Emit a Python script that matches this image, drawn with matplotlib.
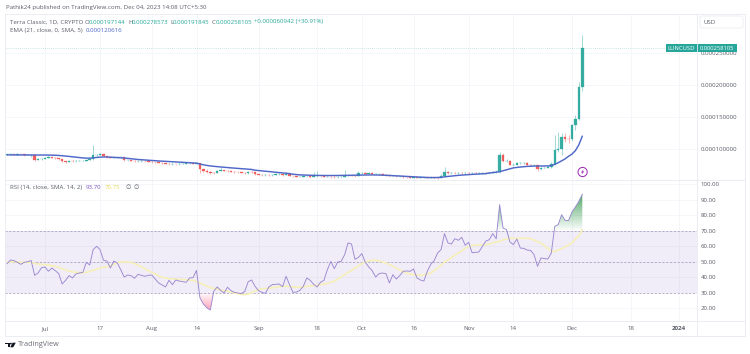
import numpy as np
import pandas as pd
import matplotlib
matplotlib.use("Agg")
import matplotlib.pyplot as plt
import matplotlib.dates as mdates
from matplotlib.patches import Rectangle, Polygon, Circle, FancyBboxPatch
from matplotlib.path import Path

# daily bars, 2023-06-20 .. 2023-12-04, prices in 1e-6 USD
first_open = 91.5
close = [
    92, 92.5, 91.5, 92.5, 92, 91, 91.5, 91.5, 83.5, 85, 85,
    87, 88, 87, 86.5, 85, 81, 80, 81.5, 81, 81.5, 82,
    82, 83, 84.5, 91, 91.5, 92, 89.5, 87.5, 87, 87.5,
    87.5, 88, 82.5, 82.5, 82, 81, 81.5, 81.5, 81, 80.5,
    80, 79.5, 79, 78, 77.5, 77, 77, 76.5, 77, 77.5,
    78, 78, 77.5, 78, 69, 66.5, 65, 63.5, 63, 66,
    67, 66.5, 66, 65, 64.5, 64, 63.5, 62.5, 64.5, 64,
    61, 60.5, 60, 60, 59.5, 60, 61, 61, 60, 61,
    58.5, 57.5, 57, 57, 57.5, 57.5, 56.5, 58, 58, 57.5,
    57, 57, 56.5, 56, 56.5, 57, 58, 59, 58.5, 58,
    62.5, 63, 62, 63, 62, 62, 62, 60.5, 59.5, 58.5,
    58.5, 58, 58, 56.5, 56, 55.5, 56, 55.5, 56, 56,
    55.5, 56, 55.5, 55, 58, 64, 63, 63.5, 63, 63.5,
    63, 63.5, 63, 63, 62.5, 62.5, 63, 62.5, 63, 64,
    65, 91, 82, 82, 76, 76, 78, 78.5, 78.5, 76,
    75.5, 75.5, 69, 71, 71.5, 72.5, 77, 99, 100.5, 119,
    116.5, 115.5, 138, 147.3, 197.1, 258.1,
]
high = [
    93, 93.5, 93, 93.5, 93, 92.5, 92.5, 92.5, 92, 86, 86,
    88, 89, 88.5, 87.5, 87, 85.5, 81.5, 82.5, 82.5, 82.5, 83,
    83, 84, 85.5, 106.5, 93, 94.5, 92.5, 90, 88, 88.5,
    88.5, 89, 88.5, 83.5, 83.5, 82.5, 82.5, 82.5, 82, 81.5,
    81, 80.5, 80, 79.5, 78.5, 78, 78, 77.5, 78, 78.5,
    79, 79, 78.5, 80, 79, 69.5, 69, 66, 64.5, 67.5,
    72, 68, 67.5, 66.5, 66, 65, 65, 64.5, 66, 65.5,
    65, 62, 61.5, 61, 61, 61.5, 62.5, 62.5, 62, 63,
    61.5, 59, 58.5, 58, 59, 59, 58.5, 65, 66, 59,
    58, 58, 58, 57.5, 58, 58, 67, 60, 60, 59.5,
    66, 65, 64, 64.5, 64, 63.5, 63.5, 62.5, 61, 60,
    59.5, 59.5, 59, 58.5, 57, 57, 57, 57, 57, 57,
    57, 57, 57, 56.5, 61, 72, 66, 65, 65, 65,
    64.5, 65, 64.5, 64.5, 64.5, 64, 64.5, 64, 64.5, 66,
    67, 96.5, 94, 85, 83, 78, 80, 80, 80, 79.5,
    77, 77, 76, 72.5, 73, 74, 80, 122, 127.5, 125,
    126, 122, 140, 154, 205, 278.6,
]
low = [
    90.5, 91, 90.5, 91, 91, 90, 90.5, 88, 82, 83, 84,
    84.5, 86.5, 86, 85.5, 84, 79.5, 79, 79.5, 80, 80.5, 81,
    81, 81.5, 82.5, 84, 89.5, 90.5, 89, 87, 86, 86,
    86.5, 87, 81.5, 81, 81, 80, 80, 80.5, 80, 79.5,
    79, 78.5, 78, 77, 76.5, 76, 76, 75.5, 76, 76.5,
    77, 77, 76.5, 77, 63, 64, 62.5, 61.5, 61.5, 62.5,
    65.5, 65.5, 65, 64, 63.5, 63, 62.5, 61.5, 62, 63,
    60, 59.5, 59, 59, 58.5, 59, 59.5, 60, 59, 59.5,
    57.5, 56.5, 56, 56, 56.5, 56.5, 55.5, 56, 57, 56.5,
    56, 56, 55.5, 55, 55.5, 56, 56.5, 58, 57.5, 57,
    57.5, 61, 61, 61, 61, 61, 61, 60, 58.5, 57.5,
    57.5, 57, 57, 55.5, 55, 54.5, 55, 54.5, 55, 55,
    54.5, 55, 54.5, 54, 54.5, 57, 62, 62, 62, 62,
    62, 62, 62, 62, 61.5, 61.5, 62, 61.5, 62, 62.5,
    63.5, 63, 80, 80, 75, 74, 75, 77, 77, 75,
    74.5, 74, 66.5, 67, 70, 71, 71.5, 76, 95, 91,
    112, 110, 113, 130, 145, 191.8,
]
ema = [
    91.3, 91.3, 91.2, 91.2, 91.2, 91.1, 91.1, 91.1, 91.1, 91.1, 91,
    91, 91, 90.9, 90.7, 90.4, 90, 89.5, 88.9, 88.3, 87.6, 87,
    86.5, 86.2, 86.2, 86.6, 87.3, 87.8, 88, 87.9, 87.7, 87.4,
    87.1, 86.8, 86.4, 85.8, 85.2, 84.6, 84.1, 83.7, 83.3, 82.9,
    82.5, 82.1, 81.8, 81.5, 81.2, 80.9, 80.6, 80.3, 80, 79.7,
    79.4, 79.1, 78.8, 78.4, 77, 75.8, 74.8, 74, 73.4, 72.9,
    72.4, 72, 71.5, 71, 70.6, 70.2, 69.8, 69.4, 69, 68.5,
    67.3, 66.8, 66.2, 65.7, 65.2, 64.7, 64.1, 63.6, 63.1, 62.6,
    62.1, 61, 60.5, 60, 59.8, 59.6, 59.4, 59.3, 59.2, 59.1,
    59, 59, 59, 59, 59.1, 59.2, 59.3, 59.4, 59.5, 59.6,
    59.8, 59.9, 60, 60, 60, 59.9, 59.8, 59.6, 59.4, 59.1,
    58.8, 58.5, 58.2, 57.9, 57.6, 57.3, 57, 56.7, 56.4, 56.1,
    55.9, 55.8, 55.8, 56, 56.2, 57, 57.6, 58.2, 58.8, 59.3,
    59.7, 60.1, 60.5, 60.8, 61.1, 61.4, 61.7, 62, 63, 63.6,
    64.2, 65, 66.5, 68, 69.5, 71, 71.7, 72.3, 72.8, 73.3,
    73.6, 73.8, 73.9, 73.9, 73.9, 74, 74.5, 76.5, 79, 82,
    85, 89, 92.5, 98, 107, 120.6,
]
rsi = [
    48.9, 51.3, 50.9, 49.8, 48.5, 49.8, 50.2, 50.9, 41.4, 42.9, 46.3,
    46.8, 44, 46.1, 44.4, 42.5, 35.8, 38.2, 41.2, 39.7, 42.3, 42.9,
    43.3, 49.8, 48.1, 58, 60.1, 58, 51.1, 50.6, 46.1, 50.6,
    49.4, 45, 40.3, 41.6, 41.2, 39.5, 42, 41.4, 40.8, 41.4,
    41.6, 39, 36.5, 35.2, 33.9, 38.2, 35.4, 38.4, 37.7, 37.3,
    36.9, 39.7, 39.9, 44.6, 26.8, 22.9, 20.5, 19, 31.1, 33.9,
    31.7, 30, 33.7, 31.5, 30.4, 30, 29.6, 31, 37.3, 38.4,
    34.3, 31.5, 30.4, 29.8, 33.9, 35.4, 35.6, 35.8, 34.1, 40.8,
    35.4, 30.4, 30.6, 31.7, 34.3, 39.7, 38.2, 35.6, 33.9, 36.9,
    38.2, 45.1, 50.4, 45.7, 50, 50.4, 54.7, 62.3, 61.6, 51.7,
    53, 55.4, 49.8, 46.8, 44.4, 40.3, 42.5, 42.9, 42.5, 36.5,
    41.8, 39, 41.2, 44, 44.2, 44, 45.5, 39.7, 38.4, 37.7,
    44, 48.5, 50.9, 55.8, 58, 68.3, 62.3, 61.6, 65, 64,
    65.9, 60.8, 62.7, 56, 56.2, 56.5, 60.1, 63.5, 64.4, 68.3,
    65, 87, 71.9, 70.9, 62.9, 61.2, 64.8, 59, 58.8, 57.7,
    57.5, 54.7, 47.2, 52.6, 52.2, 51.9, 55.8, 73, 74.1, 80.5,
    76.9, 76.7, 82.3, 85.5, 89.1, 93.7,
]
rsi_ma = [
    49.8, 50, 50.2, 50, 49.8, 49.8, 49.8, 49.8, 49.1, 48.7, 48.5,
    48.3, 48.1, 47.6, 47.2, 46.6, 45.7, 44.8, 44.2, 43.8, 43.3, 43.1,
    43.1, 43.3, 44, 44.6, 45.3, 45.9, 46.6, 47, 47.4, 48.5,
    49.6, 50, 50, 50, 49.8, 48.9, 48.1, 47, 45.7, 44.4,
    43.3, 42.3, 41.2, 40.1, 39.7, 39.2, 39, 39, 38.8, 38.6,
    38.6, 38.4, 38.2, 37.3, 36.5, 35.6, 34.5, 33.4, 33, 32.6,
    31.9, 31.5, 31.1, 30.6, 30, 29.6, 29.1, 28.9, 29.4, 30.2,
    31.3, 32.2, 32.6, 32.9, 33, 33.4, 33.7, 34.1, 34.3, 34.3,
    34.1, 33.9, 33.7, 33.7, 33.9, 34.3, 34.5, 34.7, 34.9, 35.4,
    35.8, 36.2, 36.9, 37.7, 39, 40.3, 41.8, 43.3, 44.6, 46.1,
    47.4, 48.9, 50, 50.6, 51.1, 51.1, 50.6, 50, 49.4, 48.3,
    47.2, 45.9, 44.8, 44, 42.9, 42.3, 41.8, 41.6, 41.4, 41.6,
    42.3, 42.9, 44.4, 46.1, 48.1, 49.8, 51.3, 52.8, 54.5, 55.8,
    57.3, 58.8, 59.9, 60.5, 60.8, 61, 61, 61.2, 61.6, 62.3,
    62.9, 63.3, 64.4, 64.8, 65.3, 65.3, 65.3, 65.3, 65.3, 65.3,
    65.1, 64, 63.1, 62.3, 60.5, 58.8, 57.3, 56.7, 57.7, 58.6,
    59.7, 61, 62.3, 64.8, 67, 70.75,
]

x_ticks = ["2023-07-01", "2023-07-17", "2023-08-01", "2023-08-14", "2023-09-01", "2023-09-18", "2023-10-01",
           "2023-10-16", "2023-11-01", "2023-11-14", "2023-12-01", "2023-12-18", "2024-01-01"]
x_labels = ["Jul", "17", "Aug", "14", "Sep", "18", "Oct", "16", "Nov", "14", "Dec", "18", "2024"]
price_ticks = [0.0001, 0.00015, 0.0002, 0.00025]
rsi_ticks = [20, 30, 40, 50, 60, 70, 80, 90, 100]

UP = "#26a69a"
DOWN = "#ef5350"
GRID = "#f3f5fa"
BORDER = "#e8eaf0"
TEXT = "#5a5d68"
FONT = "Open Sans"
FS = 4.4

plt.rcParams["font.family"] = [FONT, "DejaVu Sans"]

W, H = 750, 354
L, R = 5, 697
PANE_TOP, PANE_MID, PANE_BOT = 14, 180, 321.3


def pane(top, bottom):
    return [L / W, 1 - bottom / H, (R - L) / W, (bottom - top) / H]


dates = pd.date_range("2023-06-20", periods=len(close))
x = mdates.date2num(dates)
c = np.array(close) * 1e-6
o = np.r_[first_open, close[:-1]] * 1e-6
h = np.array(high) * 1e-6
l = np.array(low) * 1e-6
rsi = np.array(rsi)
tick_x = mdates.date2num(pd.to_datetime(x_ticks))
xlim = (x[0] - 0.6, x[0] + 200.3)

fig = plt.figure(figsize=(W / 100, H / 100), dpi=100, facecolor="white")
main = fig.add_axes(pane(PANE_TOP, PANE_MID))
osc = fig.add_axes(pane(PANE_MID, PANE_BOT))

# candles
col = np.where(c >= o, UP, DOWN)
main.vlines(x, l, h, colors=col, lw=0.4, alpha=0.75, zorder=3)
main.bar(x, np.abs(c - o), bottom=np.minimum(o, c), width=0.72, color=col, edgecolor=col, lw=0.2, alpha=0.9, zorder=4)
main.plot(x, np.array(ema) * 1e-6, color="#4f68c8", lw=1.05, zorder=5, solid_capstyle="round")
main.axhline(c[-1], color=UP, lw=0.5, ls=(0, (1, 2)), alpha=0.5, zorder=2)
main.set_ylim(52.03e-6, 311.4e-6)
main.set_yticks(price_ticks, [f"{v:.9f}" for v in price_ticks])
main.set_xticks(tick_x, [])

# rsi pane
osc.axhspan(30, 70, color="#7e57c2", alpha=0.1, lw=0, zorder=1)
for lev in (70, 50, 30):
    osc.axhline(lev, color="#a095b8", lw=0.5, ls=(0, (3, 2.5)), zorder=2)
osc.plot(x, rsi_ma, color="#f6efb8", lw=1.2, zorder=3)
osc.plot(x, rsi, color="#9a88d0", lw=0.65, zorder=4)
osc.set_ylim(11.74, 102.9)


def gradient(rgb, y0, y1, a0, a1, mask_level, where):
    rgba = np.zeros((128, 1, 4))
    rgba[..., :3] = matplotlib.colors.to_rgb(rgb)
    rgba[:, 0, 3] = np.linspace(a1, a0, 128)
    im = osc.imshow(rgba, extent=(x[0], x[-1], y0, y1), aspect="auto", zorder=2.5, interpolation="bilinear")
    poly = osc.fill_between(x, rsi, mask_level, where=where, interpolate=True, color="none", lw=0)
    im.set_clip_path(Path.make_compound_path(*poly.get_paths()), transform=osc.transData)


gradient("#3f9e55", 70, 96, 0.0, 1.0, 70, rsi >= 70)
gradient("#ff6f8f", 15, 30, 0.85, 0.0, 30, rsi <= 30)
osc.set_yticks(rsi_ticks, [f"{v:.2f}" for v in rsi_ticks])
osc.set_xticks(tick_x, x_labels)
osc.get_xticklabels()[-1].set_fontweight("bold")

for ax in (main, osc):
    ax.set_xlim(xlim)
    ax.grid(True, color=GRID, lw=0.6, zorder=0)
    ax.set_axisbelow(True)
    ax.yaxis.tick_right()
    ax.tick_params(length=0, labelsize=FS, labelcolor=TEXT, pad=2.8)
    for s in ax.spines.values():
        s.set_visible(False)
osc.tick_params(axis="x", pad=3.5)

# chrome, text and labels in pixel coordinates
top = fig.add_axes([0, 0, 1, 1], zorder=10)
top.set_xlim(0, W)
top.set_ylim(H, 0)
top.axis("off")
top.patch.set_alpha(0)

frame_lines = [((L, 745), (PANE_TOP, PANE_TOP)), ((L, 745), (335.5, 335.5)), ((L, L), (PANE_TOP, 335.5)),
               ((745, 745), (PANE_TOP, 335.5)), ((R, R), (PANE_TOP, 335.5)), ((L, 745), (PANE_MID, PANE_MID)),
               ((L, 745), (PANE_BOT, PANE_BOT))]
for xs, ys in frame_lines:
    top.plot(xs, ys, color=BORDER, lw=0.6)


def label(px, py, s, color=TEXT, **kw):
    top.text(px, py, s, color=color, fontsize=kw.pop("fontsize", FS), va="center", ha=kw.pop("ha", "left"), **kw)


label(5.5, 8, "Pathik24 published on TradingView.com, Dec 04, 2023 14:08 UTC+5:30")
label(10, 22, "Terra Classic, 1D, CRYPTO")
ohlc_parts = [(85, "O", TEXT), (88.5, "0.000197144", UP), (128, "H", TEXT), (131.5, "0.000278573", UP),
              (170, "L", TEXT), (173, "0.000191845", UP), (212, "C", TEXT), (215.5, "0.000258105", UP),
              (254, "+0.000060942 (+30.91%)", UP)]
for px, s, colr in ohlc_parts:
    label(px, 22, s, colr)
label(10, 30.5, "EMA (21, close, 0, SMA, 5)")
label(86, 30.5, "0.000120616", "#4f68c8")
label(10, 187.5, "RSI (14, close, SMA, 14, 2)")
label(86, 187.5, "93.70", "#7e57c2")
label(105, 187.5, "70.75", "#e8d95a")
label(125, 187.5, "∅", "#50535e")
label(133, 187.5, "∅", "#50535e")

# USD box
top.add_patch(FancyBboxPatch((700, 16), 43, 12, boxstyle="round,pad=0,rounding_size=2", fc="white", ec=BORDER, lw=0.5))
label(704, 22, "USD")

# last price tag follows the last close
tag_y = top.transData.inverted().transform(main.transData.transform((x[-1], c[-1])))[1]
top.add_patch(Rectangle((666, tag_y - 3.8), 71, 7.6, fc=UP, ec="none", zorder=5))
top.plot((R, R), (tag_y - 3.8, tag_y + 3.8), color="white", lw=0.5, zorder=6)
label(681.5, tag_y, "LUNCUSD", "white", ha="center", fontsize=4.2, zorder=6)
label(717, tag_y, f"{close[-1] * 1e-6 + 5e-9:.9f}", "white", ha="center", fontsize=4.2, zorder=6)

# lightning marker
top.add_patch(Circle((582.6, 172), 4.6, fc="white", ec="#9c27b0", lw=0.7))
top.add_patch(Polygon([(583.8, 169), (581, 172.6), (582.5, 172.6), (581.4, 175), (584.2, 171.4), (582.7, 171.4)],
                      fc="#9c27b0", ec="none"))

# TradingView logo
logo = "#131722"
top.add_patch(Polygon([(5, 342.7), (9.6, 342.7), (9.6, 347.3), (7.5, 347.3), (7.5, 344.4), (5, 344.4)], fc=logo, ec="none"))
top.add_patch(Circle((10.9, 343.6), 0.9, fc=logo, ec="none"))
top.add_patch(Polygon([(12.6, 342.7), (15.8, 342.7), (13.2, 347.3), (10.2, 347.3)], fc=logo, ec="none"))
label(18, 345, "TradingView", "#6a6d78", fontsize=5.2)

fig.savefig("out.png", dpi=100)
